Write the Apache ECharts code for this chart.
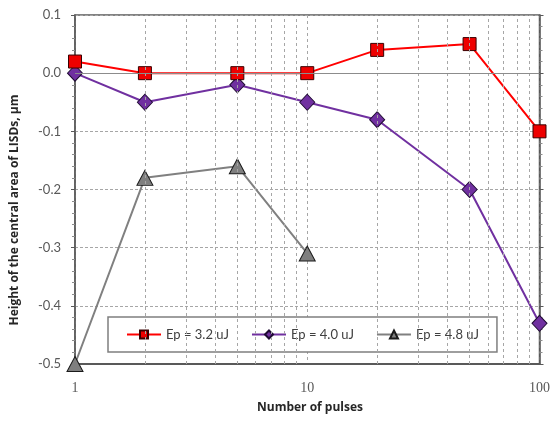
<!DOCTYPE html>
<html>
<head>
<meta charset="utf-8">
<script src="https://cdn.jsdelivr.net/npm/echarts@6/dist/echarts.min.js"></script>
<style>
  html, body { margin: 0; padding: 0; background: #fff; }
  #chart { width: 553px; height: 422px; }
</style>
</head>
<body>
<div id="chart"></div>
<script>
// Number of pulses (log axis) and crater-centre height for each pulse energy
const pulses = [1, 2, 5, 10, 20, 50, 100];
const ep32 = [0.02, 0.0, 0.0, 0.0, 0.04, 0.05, -0.10];
const ep40 = [0.0, -0.05, -0.02, -0.05, -0.08, -0.20, -0.43];
const pulses48 = [1, 2, 5, 10];
const ep48 = [-0.50, -0.18, -0.16, -0.31];

const seriesNames = ['Ep = 3.2 uJ', 'Ep = 4.0 uJ', 'Ep = 4.8 uJ'];

// Minor log gridline positions between decades
const minorPulseTicks = [2, 3, 4, 5, 6, 7, 8, 9, 20, 30, 40, 50, 60, 70, 80, 90];

const xTitle = 'Number of pulses';
const yTitle = 'Height of the central area of LISDs, \u03bcm';

const pair = (xs, ys) => xs.map((x, i) => [x, ys[i]]);

const chart = echarts.init(document.getElementById('chart'), null, { renderer: 'canvas' });

const axisColor = '#595959';
const gridColor = '#a6a6a6';

const option = {
  animation: false,
  backgroundColor: '#ffffff',
  grid: {
    left: 75, top: 15, right: 9, bottom: 58,
    show: true, borderColor: axisColor, borderWidth: 1.5
  },
  xAxis: {
    type: 'log', logBase: 10, min: 1, max: 100,
    axisLine: { onZero: false, lineStyle: { color: axisColor, width: 2 } },
    axisTick: { show: false },
    axisLabel: { fontFamily: 'Liberation Serif', fontSize: 14, color: '#595959', margin: 17 },
    splitLine: { show: true, lineStyle: { color: gridColor, type: [3, 3], width: 1 } }
  },
  yAxis: [
    {
      type: 'value', min: -0.5, max: 0.1, interval: 0.1,
      axisLine: { show: true, onZero: false, lineStyle: { color: axisColor, width: 1.5 } },
      axisTick: { show: true, inside: false, length: 4, lineStyle: { color: axisColor } },
      minorTick: { show: true, splitNumber: 5, length: 3, lineStyle: { color: '#8c8c8c' } },
      axisLabel: {
        fontFamily: 'Lato', fontSize: 13, color: '#595959', margin: 14,
        formatter: v => v.toFixed(1)
      },
      splitLine: { show: true, lineStyle: { color: gridColor, type: [3, 2], width: 1 } }
    },
    {
      type: 'value', min: -0.5, max: 0.1, interval: 0.1, position: 'right',
      axisLine: { show: true, onZero: false, lineStyle: { color: axisColor, width: 1.5 } },
      axisTick: { show: true, inside: false, length: 4, lineStyle: { color: axisColor } },
      minorTick: { show: true, splitNumber: 5, length: 3, lineStyle: { color: '#8c8c8c' } },
      axisLabel: { show: false },
      splitLine: { show: false }
    }
  ],
  legend: {
    left: 108, top: 317,
    padding: [11, 18, 11, 18],
    backgroundColor: '#ffffff',
    borderColor: '#7f7f7f', borderWidth: 1.5,
    itemGap: 22, itemWidth: 34, itemHeight: 10,
    data: seriesNames,
    textStyle: { fontFamily: 'Lato', fontSize: 13, color: '#404040' }
  },
  graphic: [
    {
      type: 'text', x: 310, y: 408,
      style: {
        text: xTitle, fontFamily: 'Open Sans', fontWeight: 'bold', fontSize: 12,
        fill: '#262626', align: 'center', verticalAlign: 'middle'
      }
    },
    {
      type: 'text', x: 15, y: 210, rotation: Math.PI / 2,
      style: {
        text: yTitle, fontFamily: 'Open Sans', fontWeight: 'bold', fontSize: 12,
        fill: '#262626', align: 'center', verticalAlign: 'middle'
      }
    }
  ],
  series: [
    {
      // Reference lines: minor log gridlines and the zero level
      type: 'line', data: [], silent: true,
      markLine: {
        silent: true, symbol: 'none', label: { show: false },
        lineStyle: { color: gridColor, type: [3, 3], width: 1 },
        data: minorPulseTicks.map(v => ({ xAxis: v })).concat([
          { yAxis: 0, lineStyle: { color: '#8c8c8c', type: 'solid', width: 1 } }
        ])
      }
    },
    {
      name: seriesNames[0], type: 'line', data: pair(pulses, ep32),
      symbol: 'rect', symbolSize: 13, z: 4,
      lineStyle: { color: '#ff0000', width: 2 },
      itemStyle: { color: '#ee0000', borderColor: '#3a0000', borderWidth: 1 }
    },
    {
      name: seriesNames[1], type: 'line', data: pair(pulses, ep40),
      symbol: 'diamond', symbolSize: [15, 16], z: 3,
      lineStyle: { color: '#7030a0', width: 2 },
      itemStyle: { color: '#7030a0', borderColor: '#1f0b33', borderWidth: 1 }
    },
    {
      name: seriesNames[2], type: 'line', data: pair(pulses48, ep48),
      symbol: 'triangle', symbolSize: [16, 15], z: 2,
      lineStyle: { color: '#808080', width: 2 },
      itemStyle: { color: '#7f7f7f', borderColor: '#1a1a1a', borderWidth: 1 }
    }
  ]
};

chart.setOption(option);
</script>
</body>
</html>
